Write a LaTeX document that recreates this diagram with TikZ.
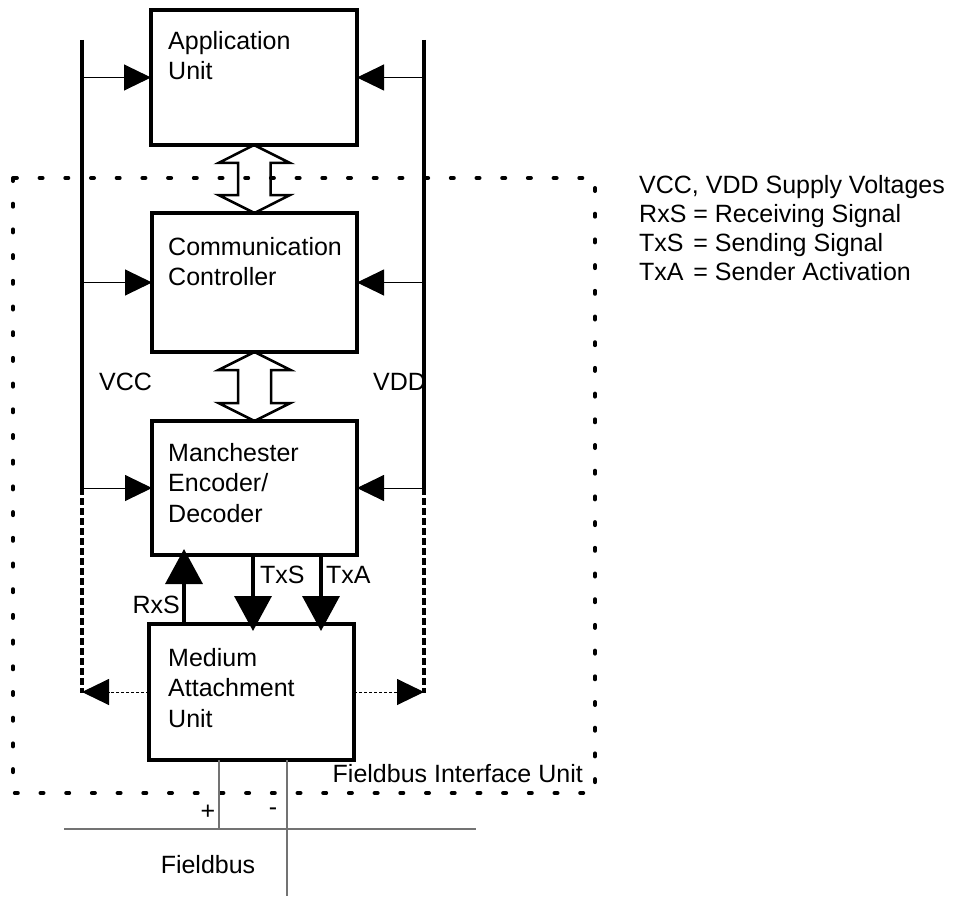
\documentclass[tikz,border=0pt]{standalone}
\usepackage{fontspec}
\setmainfont{Liberation Sans}
\usetikzlibrary{arrows.meta,calc}
\begin{document}
\begin{tikzpicture}[x=1pt,y=-1pt,
  box/.style={draw,line width=3.5pt,minimum width=205pt,anchor=north west,inner sep=0pt,outer sep=0pt},
  lbl/.style={inner sep=0pt,font=\fontsize{25}{30.5}\selectfont},
  txt/.style={lbl,align=left,anchor=north west},
  rail/.style={line width=3.5pt},
  railx/.style={line width=3.5pt,dash pattern=on 7pt off 3pt},
  pwr/.style={line width=1pt,-{Triangle[length=27pt,width=26pt]}},
  pwrd/.style={line width=1pt,dash pattern=on 3pt off 2pt,-{Triangle[length=27pt,width=26pt]}},
  sig/.style={line width=3.5pt,-{Triangle[length=35pt,width=37pt]}},
  bus/.style={line width=2.5pt,line join=miter},
  wire/.style={line width=1.5pt,black!55},
  dots/.style={line width=4pt,line cap=round,dash pattern=on 3pt off 22.7pt}]

\useasboundingbox (0,0) rectangle (957,896);

% dotted frame of the Fieldbus Interface Unit
\draw[dots] (13,178) rectangle (595,793);

% boxes
\node[box,minimum width=206pt,minimum height=135pt] (app) at (151,10) {};
\node[box,minimum height=139pt] (cc) at (152,213) {};
\node[box,minimum height=134pt] (man) at (152,421) {};
\node[box,minimum height=136pt] (mau) at (149,624) {};

\node[txt] (apptx) at (168,31) {Application\\Unit};
\node[txt] (cctx) at (168,237) {Communication\\Controller};
\node[txt] (mantx) at (168,443) {Manchester\\Encoder/\\Decoder};
\node[txt] (mautx) at (168,648) {Medium\\Attachment\\Unit};

% supply rails
\coordinate (vcctop) at (82,40);
\coordinate (vccmid) at (82,488);
\coordinate (vccbot) at (82,693);
\coordinate (vddtop) at (424,40);
\coordinate (vddmid) at (424,488);
\coordinate (vddbot) at (424,693);
\draw[rail] (vcctop) -- (vccmid);
\draw[railx] (vccmid) -- (vccbot);
\draw[rail] (vddtop) -- (vddmid);
\draw[railx] (vddmid) -- (vddbot);

\draw[pwr] (vcctop |- app.west) -- (app.west);
\draw[pwr] (vddtop |- app.east) -- (app.east);
\draw[pwr] (vcctop |- cc.west) -- (cc.west);
\draw[pwr] (vddtop |- cc.east) -- (cc.east);
\draw[pwr] (vcctop |- man.west) -- (man.west);
\draw[pwr] (vddtop |- man.east) -- (man.east);
\draw[pwrd] (mau.west) -- (vccbot |- mau.west);
\draw[pwrd] (mau.east) -- (vddbot |- mau.east);

\node[lbl,anchor=west] (vccl) at (99,382) {VCC};
\node[lbl,anchor=west] (vddl) at (373,382) {VDD};

% hollow double arrows
\draw[bus] (app.south) -- ++(36,18) -- ++(-19.5,0) -- ++(0,32) -- ++(19.5,0) -- (cc.north)
  -- ++(-36,-18) -- ++(19.5,0) -- ++(0,-32) -- ++(-19.5,0) -- cycle;
\draw[bus] (cc.south) -- ++(36,18) -- ++(-19.5,0) -- ++(0,33) -- ++(19.5,0) -- (man.north)
  -- ++(-36,-18) -- ++(19.5,0) -- ++(0,-33) -- ++(-19.5,0) -- cycle;

% signals
\coordinate (rx) at (184,0);
\coordinate (tx) at (253,0);
\coordinate (ta) at (321,0);
\draw[sig,shorten >=-6pt] (mau.north -| rx) -- (man.south -| rx);
\draw[sig,shorten >=-7pt] (man.south -| tx) -- (mau.north -| tx);
\draw[sig,shorten >=-7pt] (man.south -| ta) -- (mau.north -| ta);
\node[lbl,anchor=west] (txsl) at (260,575) {TxS};
\node[lbl,anchor=west] (txal) at (326,575) {TxA};
\node[lbl,anchor=east] (rxsl) at (180,605) {RxS};

\node[lbl,anchor=east] (fiul) at (583,774) {Fieldbus Interface Unit};

% fieldbus wires
\coordinate (busL) at (64,829);
\coordinate (busR) at (476,829);
\coordinate (px) at (219,0);
\coordinate (mend) at (287,896);
\draw[wire] (busL) -- (busR);
\draw[wire] (mau.south -| px) -- (busL -| px);
\draw[wire] (mau.south -| mend) -- (mend);
\node[lbl] (plus) at (208,812) {+};
\node[lbl] (minus) at (273,812) {-};
\node[lbl] (fb) at (208,865) {Fieldbus};

% legend
\node[lbl,anchor=north west,font=\fontsize{25}{29}\selectfont] (legend) at (639,173)
  {\begin{tabular}{@{}l@{ }l@{}}\multicolumn{2}{@{}l@{}}{VCC, VDD Supply Voltages}\\
   RxS & = Receiving Signal\\ TxS & = Sending Signal\\ TxA & = Sender Activation\end{tabular}};
\end{tikzpicture}
\end{document}
